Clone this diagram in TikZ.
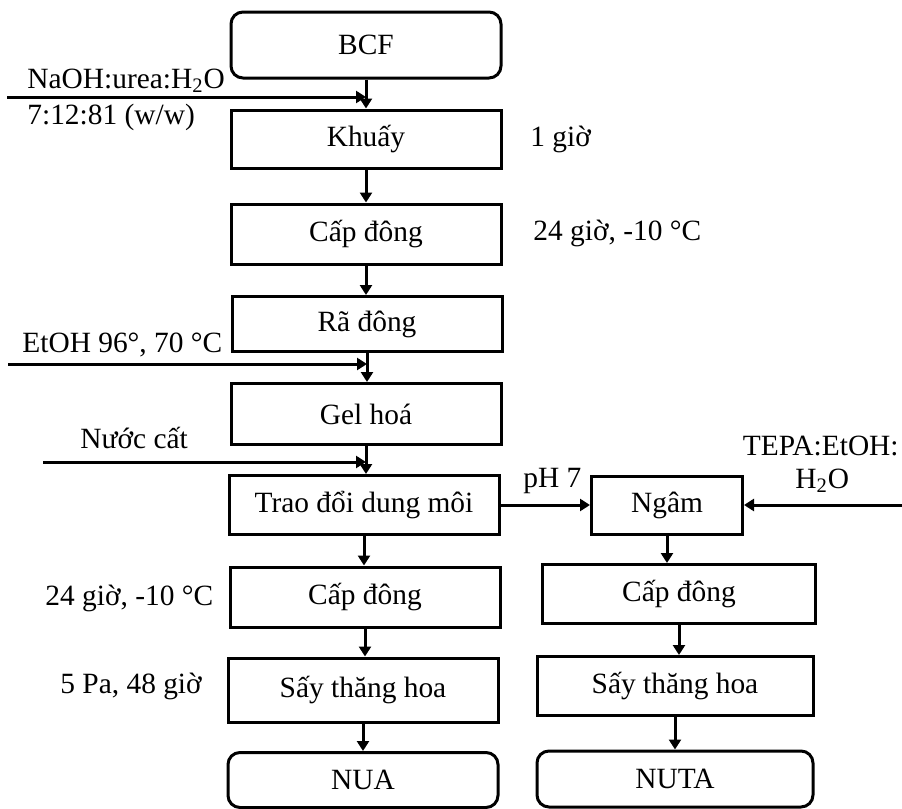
\documentclass[tikz,border=0pt]{standalone}
\usepackage{fontspec}
\setmainfont{Liberation Serif}
\usetikzlibrary{arrows.meta}

\begin{document}
\begin{tikzpicture}
    [
    x=0.5pt,y=-0.5pt,
    font=\fontsize{14.7}{17}\selectfont,
    stepbox/.style={rectangle,draw,line width=1.5pt,minimum width=135pt,minimum height=30pt},
    endbox/.style={stepbox,rounded corners=6pt},
    flow/.style={line width=1.5pt,-{Triangle[length=5pt,width=6pt]}},
    note/.style={inner sep=0pt,anchor=base west},
    ]
    \useasboundingbox (0,0) rectangle (902,809);

    % main column
    \node (bcf) at (366,45) [endbox,minimum height=33pt] {BCF};
    \node (khuay) at (366,139) [stepbox,minimum height=29pt] {Khuấy};
    \node (capdong1) at (366,234) [stepbox] {Cấp đông};
    \node (radong) at (367,324) [stepbox,minimum height=27.5pt] {Rã đông};
    \node (gelhoa) at (366,414) [stepbox,minimum height=30.5pt] {Gel hoá};
    \node (traodoi) at (364,505) [stepbox,minimum height=29.5pt] {Trao đổi dung môi};
    \node (capdong2) at (365,597) [stepbox] {Cấp đông};
    \node (say1) at (363,690) [stepbox,minimum height=32pt] {Sấy thăng hoa};
    \node (nua) at (363,780) [endbox,minimum height=27.5pt] {NUA};

    % right column
    \node (ngam) at (667,505) [stepbox,minimum width=75.5pt,minimum height=29pt] {Ngâm};
    \node (capdong3) at (679,594) [stepbox,minimum width=136.5pt,minimum height=29.5pt] {Cấp đông};
    \node (say2) at (675,686) [stepbox,minimum width=138pt,minimum height=29.5pt] {Sấy thăng hoa};
    \node (nuta) at (675,779) [endbox,minimum width=138pt,minimum height=28pt] {NUTA};

    % flow down
    \draw [flow] (bcf.south) -- (bcf.south |- khuay.north);
    \draw [flow] (khuay.south) -- (khuay.south |- capdong1.north);
    \draw [flow] (capdong1.south) -- (capdong1.south |- radong.north);
    \draw [flow] (radong.south) -- (radong.south |- gelhoa.north);
    \draw [flow] (gelhoa.south) -- (gelhoa.south |- traodoi.north);
    \draw [flow] (traodoi.south) -- (traodoi.south |- capdong2.north);
    \draw [flow] (capdong2.south) -- (capdong2.south |- say1.north);
    \draw [flow] (say1.south) -- (say1.south |- nua.north);
    \draw [flow] (traodoi.east) -- (ngam.west);
    \draw [flow] (ngam.south) -- (ngam.south |- capdong3.north);
    \draw [flow] (capdong3.south) -- (capdong3.south |- say2.north);
    \draw [flow] (say2.south) -- (say2.south |- nuta.north);

    % inputs
    \coordinate (in1) at (7,97);
    \coordinate (in2) at (8,364);
    \coordinate (in3) at (43,462);
    \coordinate (in4) at (902,505);
    \draw [flow] (in1) -- (in1 -| bcf.south);
    \draw [flow] (in2) -- (in2 -| radong.south);
    \draw [flow] (in3) -- (in3 -| gelhoa.south);
    \draw [flow] (in4) -- (ngam.east);

    % labels
    \node (naoh) at (27,88) [note] {NaOH:urea:H\textsubscript{2}O};
    \node (ratio) at (27,124) [note] {7:12:81 (w/w)};
    \node (t1) at (530,146) [note] {1 giờ};
    \node (t2) at (533,240) [note] {24 giờ, -10 °C};
    \node (etoh) at (22,352) [note] {EtOH 96°, 70 °C};
    \node (nuoc) at (80,448) [note] {Nước cất};
    \node (ph) at (523,487) [note] {pH 7};
    \node (tepa) at (899,455) [note,anchor=base east] {TEPA:EtOH:};
    \node (water) at (795,488) [note] {H\textsubscript{2}O};
    \node (t3) at (45,605) [note] {24 giờ, -10 °C};
    \node (t4) at (60,693) [note] {5 Pa, 48 giờ};
  \end{tikzpicture}
\end{document}
